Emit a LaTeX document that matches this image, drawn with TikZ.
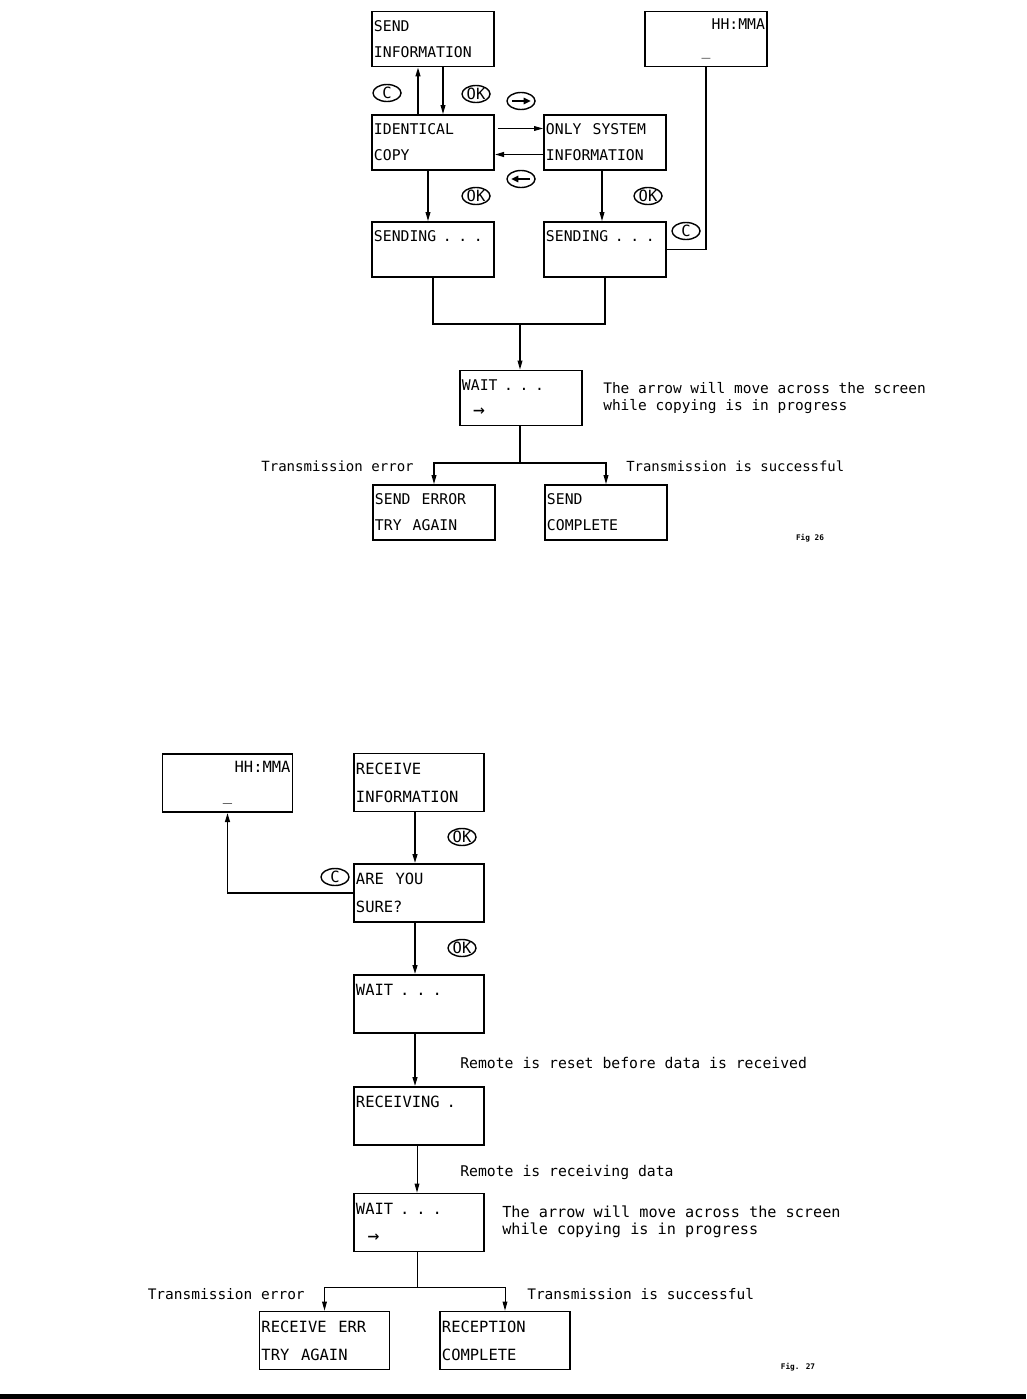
\documentclass[tikz,border=0pt]{standalone}
\usepackage{fontspec}
\newfontfamily\plotfont{DejaVu Sans Mono}
\usetikzlibrary{arrows.meta,shapes.geometric,calc}

\newcommand{\waitarrow}{{\fontsize{14}{14}\selectfont →}}
\newcommand{\widespace}{\spaceskip 0.75em\relax}
\newcommand{\screendots}{\hspace{0.45em}.\hspace{0.45em}.\hspace{0.45em}.}

\tikzset{
  screen/.style={draw, rectangle, line width=1.2pt, inner xsep=0.05cm, inner ysep=0pt,
    text width=2.95cm, minimum height=1.375cm, align=left,
    font=\plotfont\fontsize{10.5}{18.5}\selectfont,
    execute at begin node=\widespace},
  screenb/.style={screen, text width=3.15cm, minimum height=1.45cm,
    font=\plotfont\fontsize{11}{19.9}\selectfont},
  btn/.style={ellipse, draw, line width=1pt, minimum width=0.7cm, minimum height=0.425cm,
    inner sep=0pt, font=\plotfont\fontsize{11}{12}\selectfont},
  arr/.style={-{Triangle[length=6.5pt,width=3.4pt]}, line width=0.9pt},
  link/.style={line width=0.9pt},
  lbl/.style={inner sep=0pt, align=left, font=\plotfont\fontsize{10.3}{12}\selectfont},
  figlbl/.style={inner sep=0pt, font=\plotfont\bfseries\fontsize{5.5}{6}\selectfont},
}

\begin{document}
\begin{tikzpicture}[x=0.025cm, y=-0.025cm]
\useasboundingbox (0,0) rectangle (1026,1399);

\node[screen](send) at (433,39){SEND\\INFORMATION};
\node[screen](clockA) at (706,39){\makebox[\hsize][r]{HH:MMA}\\\makebox[\hsize][c]{\_}};
\node[screen](ident) at (433,142.5){IDENTICAL\\COPY};
\node[screen](only) at (605,142.5){ONLY SYSTEM\\INFORMATION};
\node[screen](sendL) at (433,249.5){SENDING\screendots\\\vphantom{X}};
\node[screen](sendR) at (605,249.5){SENDING\screendots\\\vphantom{X}};
\node[screen](wait) at (521,398){WAIT\screendots\\\ \waitarrow};
\node[screen](err) at (434,512.5){SEND ERROR\\TRY AGAIN};
\node[screen](compl) at (606,512.5){SEND\\COMPLETE};

\node[btn](cA) at (387,93){C};
\node[btn](okA) at (476,94){OK};
\node[btn](rbtn) at (521,101){};
\node[btn](lbtn) at (521,179){};
\node[btn](okB) at (476,196){OK};
\node[btn](okC) at (648,196){OK};
\node[btn](cB) at (686,231){C};

\draw[-{Triangle[length=5pt,width=4.5pt]}, line width=1.5pt] ($(rbtn.west)+(6,0)$) -- ($(rbtn.east)+(-5,0)$);
\draw[-{Triangle[length=5pt,width=4.5pt]}, line width=1.5pt] ($(lbtn.east)+(-6,0)$) -- ($(lbtn.west)+(5,0)$);

\draw[arr, line width=1.2pt] ($(ident.north)+(-15,0)$) -- ($(send.south)+(-15,0)$);
\draw[arr] ($(send.south)+(10,0)$) -- ($(ident.north)+(10,0)$);
\draw[arr, line width=0.7pt] ($(ident.east)+(3,-14)$) -- ($(only.west)+(0,-14)$);
\draw[arr, line width=1.2pt] ($(only.west)+(0,12)$) -- ($(ident.east)+(0,12)$);
\draw[arr] ($(ident.south)+(-5,0)$) -- ($(sendL.north)+(-5,0)$);
\draw[arr] ($(only.south)+(-3,0)$) -- ($(sendR.north)+(-3,0)$);
\draw[line width=1.2pt] (clockA.south) |- (sendR.east);

\coordinate (mA) at (520,324);
\draw[link] (sendL.south) |- (mA) -| (sendR.south);
\draw[arr] (mA) -- (mA |- wait.north);
\coordinate (sA) at (520,463);
\draw[link] (sA |- wait.south) -- (sA);
\draw[arr] (sA) -| (err.north);
\draw[arr] (sA) -| (compl.north);

\node[lbl, anchor=west](descA) at (603,398){The arrow will move across the screen\\while copying is in progress};
\node[lbl, anchor=east, font=\plotfont\fontsize{10}{12}\selectfont](errA) at (414,466){Transmission error};
\node[lbl, anchor=west, font=\plotfont\fontsize{9.9}{12}\selectfont](okmsgA) at (626,466){Transmission is successful};
\node[figlbl](figA) at (810,538){Fig 26};

\node[screenb](clockB) at (227.5,783){\makebox[\hsize][r]{HH:MMA}\\\makebox[\hsize][c]{\_}};
\node[screenb](recv) at (419,782.5){RECEIVE\\INFORMATION};
\node[screenb](sure) at (419,893){ARE YOU\\SURE?};
\node[screenb](waitB) at (419,1004){WAIT\screendots\\\vphantom{X}};
\node[screenb](recving) at (419,1116){RECEIVING\hspace{0.45em}.\\\vphantom{X}};
\node[screenb](waitC) at (419,1222.5){WAIT\screendots\\\ \waitarrow};
\node[screenb](rerr) at (324.5,1340.5){RECEIVE ERR\\TRY AGAIN};
\node[screenb](rcomp) at (505,1340.5){RECEPTION\\COMPLETE};

\node[btn](okD) at (462,837){OK};
\node[btn](cC) at (335,877){C};
\node[btn](okE) at (462,948){OK};

\draw[arr, line width=1.2pt] ($(recv.south)+(-4,0)$) -- ($(sure.north)+(-4,0)$);
\draw[arr, line width=1.2pt] (sure.west) -| (clockB.south);
\draw[arr, line width=1.2pt] ($(sure.south)+(-4,0)$) -- ($(waitB.north)+(-4,0)$);
\draw[arr, line width=1.2pt] ($(waitB.south)+(-4,0)$) -- ($(recving.north)+(-4,0)$);
\draw[arr, line width=0.7pt] ($(recving.south)+(-2,0)$) -- ($(waitC.north)+(-2,0)$);

\coordinate (sB) at (417,1287);
\draw[line width=0.7pt] (sB |- waitC.south) -- (sB);
\draw[arr, line width=0.7pt] (sB) -| (rerr.north);
\draw[arr, line width=0.7pt] (sB) -| (rcomp.north);

\node[lbl, anchor=west, font=\plotfont\fontsize{10.5}{12}\selectfont](resetmsg) at (460,1063){Remote is reset before data is received};
\node[lbl, anchor=west, font=\plotfont\fontsize{10.5}{12}\selectfont](recvmsg) at (460,1172){Remote is receiving data};
\node[lbl, anchor=west, font=\plotfont\fontsize{10.8}{12}\selectfont](descB) at (502,1222){The arrow will move across the screen\\while copying is in progress};
\node[lbl, anchor=east](errB) at (305,1294){Transmission error};
\node[lbl, anchor=west](okmsgB) at (527,1294){Transmission is successful};
\node[figlbl](figB) at (798,1367){Fig. 27};

\fill (0,1394) rectangle (1026,1399);
\end{tikzpicture}
\end{document}
